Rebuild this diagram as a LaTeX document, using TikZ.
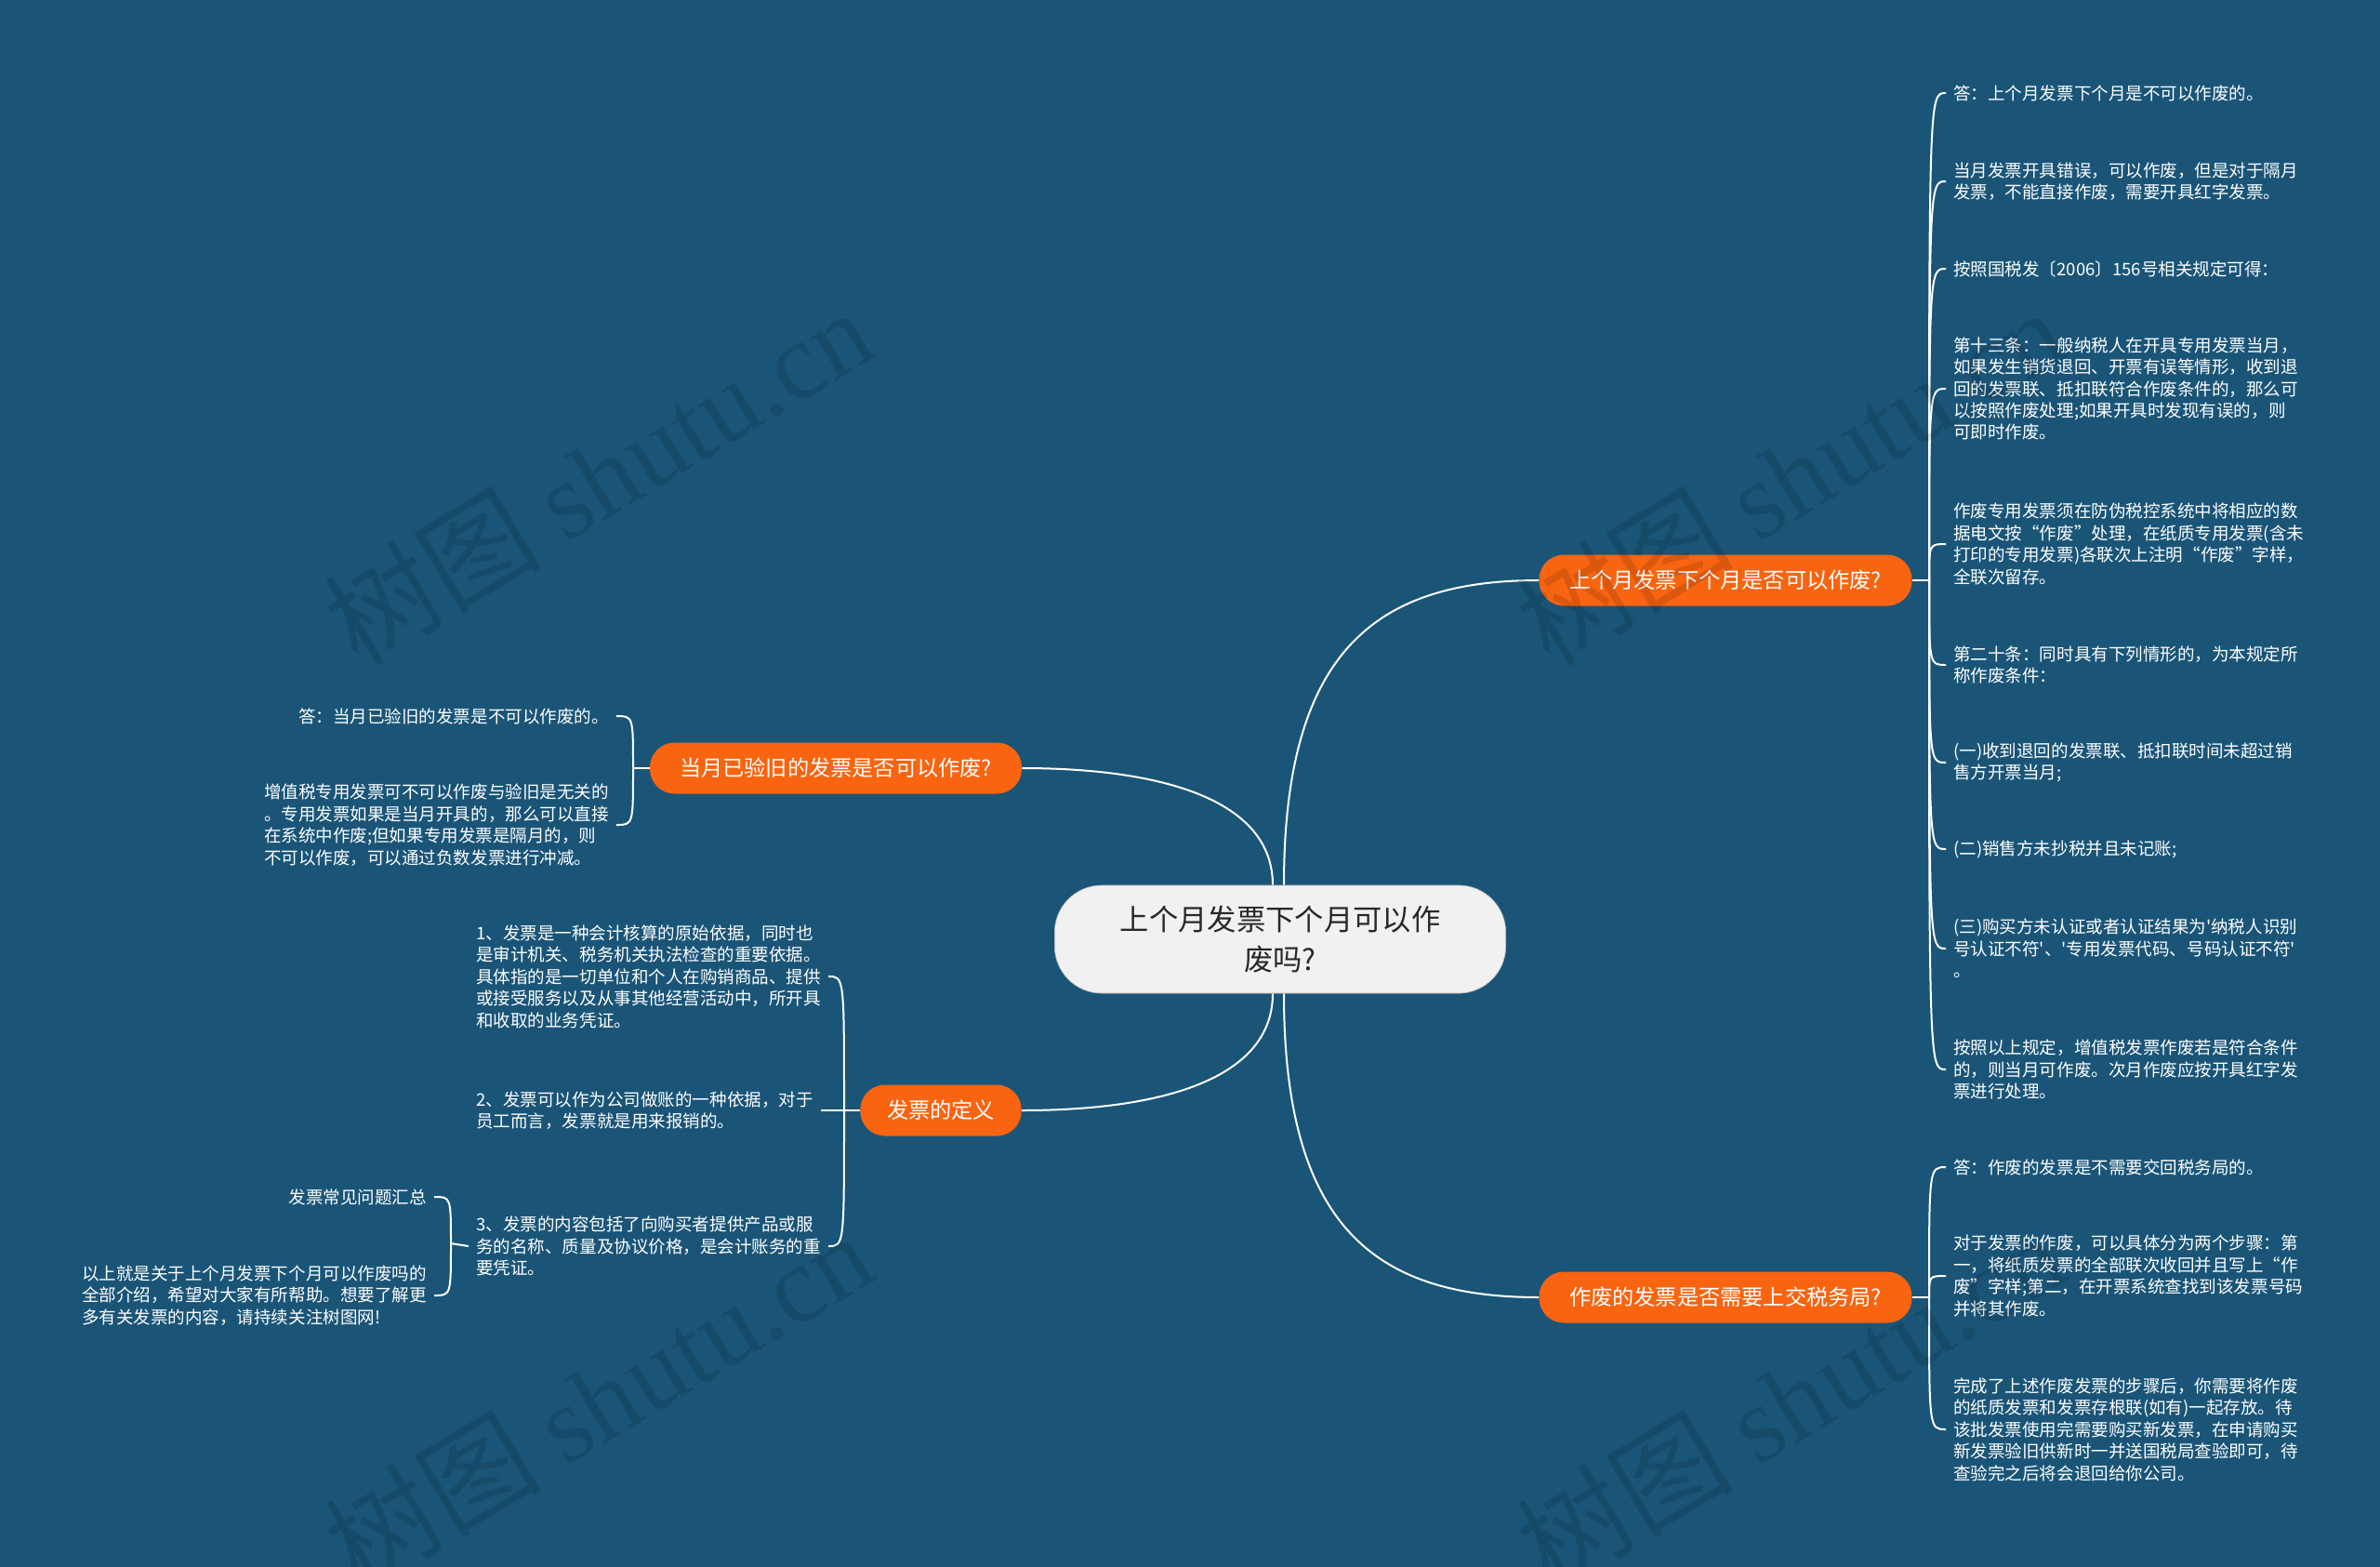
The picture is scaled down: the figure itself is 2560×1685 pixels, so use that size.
\documentclass[tikz,border=0pt]{standalone}
\usepackage{fontspec}
\setmainfont{Noto Sans CJK SC}[Ligatures=TeXOff]
\newfontfamily\wmlatin{Liberation Serif}
\usetikzlibrary{calc}
\definecolor{bgblue}{RGB}{26,85,120}
\definecolor{orng}{RGB}{249,100,16}
\definecolor{ctrfill}{RGB}{241,241,241}
\definecolor{ctrtext}{RGB}{40,40,40}
\pgfdeclarelayer{bg}
\pgfsetlayers{bg,main}
\begin{document}
\begin{tikzpicture}[x=0.75pt,y=-0.75pt,
  link/.style={draw=white,line width=1.5pt},
  centerbox/.style={fill=ctrfill,draw=gray!55,line width=0.5pt,text=ctrtext,rounded corners=38pt,
    minimum width=364pt,minimum height=87pt,align=center,font=\fontsize{23.5pt}{32pt}\selectfont},
  branch/.style={fill=orng,text=white,rounded corners=20pt,minimum height=41.25pt,inner xsep=0pt,
    font=\fontsize{17.4pt}{20pt}\selectfont},
  leafR/.style={anchor=west,text=white,align=left,inner xsep=6pt,inner ysep=0pt,
    font=\fontsize{13.9pt}{17.6pt}\selectfont},
  leafL/.style={leafR,anchor=east},
  wmark/.style={rotate=31,text=black,opacity=0.12,font=\fontsize{88pt}{88pt}\selectfont}
]
\begin{pgfonlayer}{bg}
\fill[bgblue] (0,0) rectangle (2560,1685);
\end{pgfonlayer}
\useasboundingbox (0,0) rectangle (2560,1685);

% centre and branches
\node[centerbox] (c) at (1377,1010) {上个月发票下个月可以作\\废吗?};
\node[branch,minimum width=300.75pt] (b1) at (1856,624) {上个月发票下个月是否可以作废?};
\node[branch,minimum width=300pt] (b2) at (899,826) {当月已验旧的发票是否可以作废?};
\node[branch,minimum width=130pt] (b3) at (1012,1194) {发票的定义};
\node[branch,minimum width=300.75pt] (b4) at (1856,1395) {作废的发票是否需要上交税务局?};

% junctions
\coordinate (j1) at (2075,624);
\coordinate (j4) at (2075,1395);
\coordinate (j2) at (681,826);
\coordinate (j3) at (908,1194);
\coordinate (j5) at (485,1337);

% branch 1 leaves
\node[leafR] (l11) at (2093,100) {答：上个月发票下个月是不可以作废的。};
\node[leafR] (l12) at (2093,195) {当月发票开具错误，可以作废，但是对于隔月\\发票，不能直接作废，需要开具红字发票。};
\node[leafR] (l13) at (2093,289) {按照国税发〔2006〕156号相关规定可得：};
\node[leafR] (l14) at (2093,418) {第十三条：一般纳税人在开具专用发票当月，\\如果发生销货退回、开票有误等情形，收到退\\回的发票联、抵扣联符合作废条件的，那么可\\以按照作废处理;如果开具时发现有误的，则\\可即时作废。};
\node[leafR] (l15) at (2093,585) {作废专用发票须在防伪税控系统中将相应的数\\据电文按“作废”处理，在纸质专用发票(含未\\打印的专用发票)各联次上注明“作废”字样，\\全联次留存。};
\node[leafR] (l16) at (2093,715) {第二十条：同时具有下列情形的，为本规定所\\称作废条件：};
\node[leafR] (l17) at (2093,820) {(一)收到退回的发票联、抵扣联时间未超过销\\售方开票当月;};
\node[leafR] (l18) at (2093,913) {(二)销售方未抄税并且未记账;};
\node[leafR] (l19) at (2093,1020) {(三)购买方未认证或者认证结果为'纳税人识别\\号认证不符'、'专用发票代码、号码认证不符'\\。};
\node[leafR] (l110) at (2093,1150) {按照以上规定，增值税发票作废若是符合条件\\的，则当月可作废。次月作废应按开具红字发\\票进行处理。};

% branch 4 leaves
\node[leafR] (l41) at (2093,1255) {答：作废的发票是不需要交回税务局的。};
\node[leafR] (l42) at (2093,1372) {对于发票的作废，可以具体分为两个步骤：第\\一，将纸质发票的全部联次收回并且写上“作\\废”字样;第二，在开票系统查找到该发票号码\\并将其作废。};
\node[leafR] (l43) at (2093,1537) {完成了上述作废发票的步骤后，你需要将作废\\的纸质发票和发票存根联(如有)一起存放。待\\该批发票使用完需要购买新发票，在申请购买\\新发票验旧供新时一并送国税局查验即可，待\\查验完之后将会退回给你公司。};

% branch 2 leaves
\node[leafL] (l21) at (663,770) {答：当月已验旧的发票是不可以作废的。};
\node[leafL] (l22) at (663,887) {增值税专用发票可不可以作废与验旧是无关的\\。专用发票如果是当月开具的，那么可以直接\\在系统中作废;但如果专用发票是隔月的，则\\不可以作废，可以通过负数发票进行冲减。};

% branch 3 leaves
\node[leafR] (l31) at (504,1050) {1、发票是一种会计核算的原始依据，同时也\\是审计机关、税务机关执法检查的重要依据。\\具体指的是一切单位和个人在购销商品、提供\\或接受服务以及从事其他经营活动中，所开具\\和收取的业务凭证。};
\node[leafR] (l32) at (504,1194) {2、发票可以作为公司做账的一种依据，对于\\员工而言，发票就是用来报销的。};
\node[leafR] (l33) at (504,1340) {3、发票的内容包括了向购买者提供产品或服\\务的名称、质量及协议价格，是会计账务的重\\要凭证。};

% sub-leaves of l33
\node[leafL] (l51) at (467,1287) {发票常见问题汇总};
\node[leafL] (l52) at (467,1393) {以上就是关于上个月发票下个月可以作废吗的\\全部介绍，希望对大家有所帮助。想要了解更\\多有关发票的内容，请持续关注树图网!};

\begin{pgfonlayer}{bg}
% centre to branches
\draw[link] ($(c.north)+(4,0)$) .. controls (1381,700) and (1480,624) .. (b1.west);
\draw[link] ($(c.south)+(4,0)$) .. controls (1381,1320) and (1480,1395) .. (b4.west);
\draw[link] ($(c.north)+(-8,0)$) .. controls (1369,860) and (1250,826) .. (b2.east);
\draw[link] ($(c.south)+(-8,0)$) .. controls (1369,1160) and (1250,1194) .. (b3.east);
% branch 1
\draw[link] (b1.east) -- (j1);
\foreach \n in {l11,l12,l13,l14,l15,l16,l17,l18,l19,l110}
  \draw[link] (j1) .. controls (j1 |- \n.west) .. (\n.west);
% branch 4
\draw[link] (b4.east) -- (j4);
\foreach \n in {l41,l42,l43}
  \draw[link] (j4) .. controls (j4 |- \n.west) .. (\n.west);
% branch 2
\draw[link] (b2.west) -- (j2);
\foreach \n in {l21,l22}
  \draw[link] (j2) .. controls (j2 |- \n.east) .. (\n.east);
% branch 3
\draw[link] (b3.west) -- (j3);
\foreach \n in {l31,l32,l33}
  \draw[link] (j3) .. controls (j3 |- \n.east) .. (\n.east);
% sub-branch
\draw[link] (l33.west) -- (j5);
\foreach \n in {l51,l52}
  \draw[link] (j5) .. controls (j5 |- \n.east) .. (\n.east);
\end{pgfonlayer}

% watermarks
\node[wmark] (w1) at (643,512) {树图 {\wmlatin shutu.cn}};
\node[wmark] (w2) at (1925,512) {树图 {\wmlatin shutu.cn}};
\node[wmark] (w3) at (643,1505) {树图 {\wmlatin shutu.cn}};
\node[wmark] (w4) at (1925,1505) {树图 {\wmlatin shutu.cn}};
\end{tikzpicture}
\end{document}
